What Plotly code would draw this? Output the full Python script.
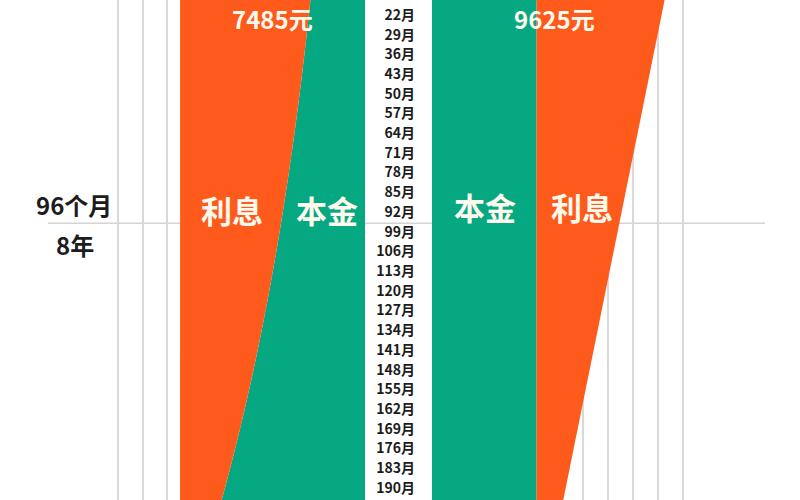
import plotly.graph_objects as go

# 月份（每7个月一个刻度）
months = [1, 8, 15, 22, 29, 36, 43, 50, 57, 64, 71, 78, 85, 92, 99, 106, 113,
          120, 127, 134, 141, 148, 155, 162, 169, 176, 183, 190, 197]
month_labels = [f"{m}月" for m in months]

# 等额本息：每月 7485元
ei_principal = [2027, 2106, 2188, 2273, 2361, 2453, 2548, 2647, 2750, 2856, 2967,
                3082, 3202, 3327, 3456, 3590, 3729, 3874, 4025, 4181, 4343, 4512,
                4687, 4869, 5058, 5255, 5459, 5671, 5891]
ei_interest = [5458, 5379, 5297, 5212, 5124, 5032, 4937, 4838, 4735, 4629, 4518,
               4403, 4283, 4158, 4029, 3895, 3756, 3611, 3460, 3304, 3142, 2973,
               2798, 2616, 2427, 2230, 2026, 1814, 1594]

# 等额本金：首月 9625元
ep_principal = [4167, 4167, 4167, 4167, 4167, 4167, 4167, 4167, 4167, 4167, 4167,
                4167, 4167, 4167, 4167, 4167, 4167, 4167, 4167, 4167, 4167, 4167,
                4167, 4167, 4167, 4167, 4167, 4167, 4167]
ep_interest = [5458, 5299, 5140, 4981, 4822, 4662, 4503, 4344, 4185, 4026, 3866,
               3707, 3548, 3389, 3230, 3070, 2911, 2752, 2593, 2434, 2274, 2115,
               1956, 1797, 1638, 1478, 1319, 1160, 1001]

GREEN = "#06A882"
ORANGE = "#FD5A1C"
FONT = "Noto Sans CJK SC"
TXT = "#FFF9EE"

fig = go.Figure()
fig.add_trace(go.Scatter(x=ei_principal, y=months, xaxis="x", yaxis="y",
                         stackgroup="left", orientation="h", mode="none",
                         fillcolor=GREEN, hoverinfo="skip"))
fig.add_trace(go.Scatter(x=ei_interest, y=months, xaxis="x", yaxis="y",
                         stackgroup="left", orientation="h", mode="none",
                         fillcolor=ORANGE, hoverinfo="skip"))
fig.add_trace(go.Scatter(x=ep_principal, y=months, xaxis="x2", yaxis="y2",
                         stackgroup="right", orientation="h", mode="none",
                         fillcolor=GREEN, hoverinfo="skip"))
fig.add_trace(go.Scatter(x=ep_interest, y=months, xaxis="x2", yaxis="y2",
                         stackgroup="right", orientation="h", mode="none",
                         fillcolor=ORANGE, hoverinfo="skip"))

grid = dict(showgrid=True, gridcolor="#D9D9D9", gridwidth=2, dtick=1000,
            zeroline=False, showticklabels=False, ticks="", showline=False)
yrange = [194.3, 16.7]

fig.update_layout(
    width=800, height=500,
    margin=dict(l=0, r=0, t=0, b=0),
    paper_bgcolor="white", plot_bgcolor="rgba(0,0,0,0)",
    showlegend=False,
    font=dict(family=FONT),
    xaxis=dict(domain=[115 / 800, 365 / 800], range=[10120, 0], anchor="y", **grid),
    xaxis2=dict(domain=[432 / 800, 687 / 800], range=[0, 10160], anchor="y2", **grid),
    yaxis=dict(range=yrange, anchor="x", showgrid=False, zeroline=False,
               showticklabels=False, ticks=""),
    yaxis2=dict(range=yrange, anchor="x2", showgrid=False, zeroline=False,
                tickvals=months, ticktext=month_labels, ticks="",
                ticklabelstandoff=16,
                tickfont=dict(family=FONT, size=14, color="#1C1C1C", weight="bold")),
)

fig.add_shape(type="line", xref="paper", yref="y", x0=48 / 800, x1=765 / 800,
              y0=96, y1=96, line=dict(color="#D4D4D4", width=1.5), layer="below")

big = dict(family=FONT, size=31, color=TXT, weight="bold")
mid = dict(family=FONT, size=24, color=TXT, weight="bold")
dark = dict(family=FONT, size=24, color="#1C1C1C", weight="bold")

fig.add_annotation(text="利息", x=5385, y=91, xref="x", yref="y", showarrow=False, font=big)
fig.add_annotation(text="本金", x=1540, y=91, xref="x", yref="y", showarrow=False, font=big)
fig.add_annotation(text="本金", x=2110, y=90, xref="x2", yref="y2", showarrow=False, font=big)
fig.add_annotation(text="利息", x=5976, y=90, xref="x2", yref="y2", showarrow=False, font=big)
fig.add_annotation(text="7485元", x=3725, y=23.3, xref="x", yref="y", showarrow=False, font=mid)
fig.add_annotation(text="9625元", x=4900, y=23.3, xref="x2", yref="y2", showarrow=False, font=mid)
fig.add_annotation(text="96个月", x=73.5 / 800, y=89.5, xref="paper", yref="y",
                   xanchor="center", showarrow=False, font=dark)
fig.add_annotation(text="8年", x=75 / 800, y=103.5, xref="paper", yref="y",
                   xanchor="center", showarrow=False, font=dark)

fig.write_html("out.html", config={"displayModeBar": False},
               post_script="document.body.style.margin='0';")
